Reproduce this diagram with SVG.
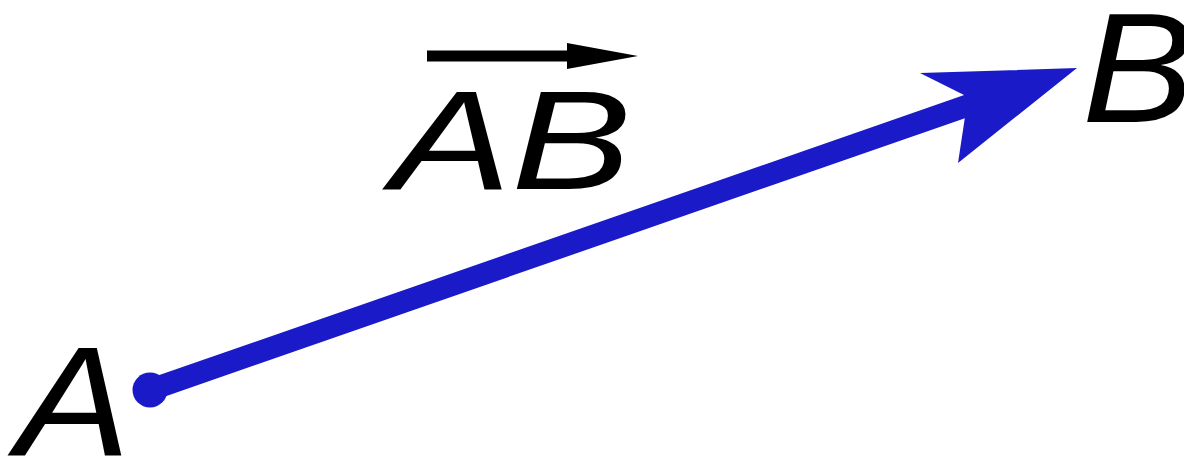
<svg xmlns="http://www.w3.org/2000/svg" width="1184" height="459" viewBox="0 0 1184 459">
<style>
.lbl{font-family:"Liberation Sans",Arial,sans-serif;font-style:italic;fill:#000}
.vec{fill:#1a1ac8;stroke:none}
</style>
<rect width="1184" height="459" fill="#fff"/>
<g id="connectors">
<line x1="150" y1="390" x2="975" y2="103" stroke="#1a1ac8" stroke-width="22"/>
<circle class="vec" cx="150" cy="390" r="17.5"/>
<polygon class="vec" points="1077,68 920,73 968,97 958,163"/>
</g>
<g id="nodeA"><text class="lbl" transform="translate(16,455) scale(1.1,1)" font-size="156">A</text></g>
<g id="nodeB"><text class="lbl" transform="translate(1082,122) scale(1.08,1)" font-size="156">B</text></g>
<g id="labelAB">
<text class="lbl" transform="translate(391,189) scale(1.28,1)" font-size="141">AB</text>
<line x1="427" y1="56" x2="572" y2="56" stroke="#000" stroke-width="11"/>
<polygon points="638,56 567,43 567,69" fill="#000"/>
</g>
</svg>
